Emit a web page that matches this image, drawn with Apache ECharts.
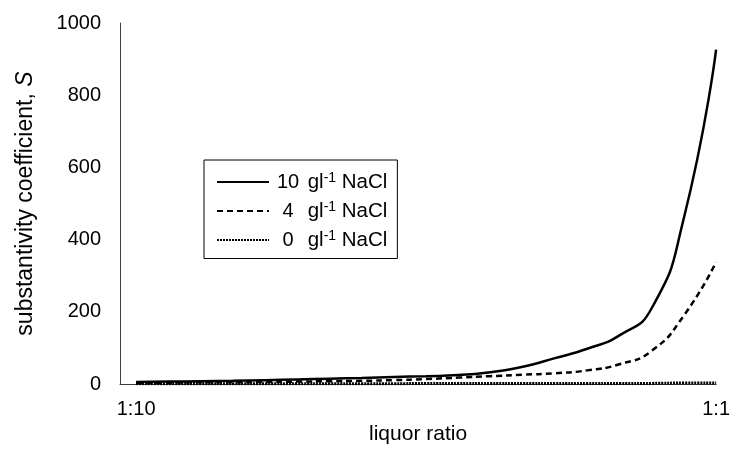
<!DOCTYPE html>
<html>
<head>
<meta charset="utf-8">
<script src="https://cdn.jsdelivr.net/npm/echarts@6/dist/echarts.min.js"></script>
<style>html,body{margin:0;padding:0;background:#fff}#c{width:733px;height:450px}</style>
</head>
<body>
<div id="c"></div>
<script>
var categories = ['1:10','1:9.5','1:9','1:8.5','1:8','1:7.5','1:7','1:6.5','1:6','1:5.5','1:5','1:4.5','1:4','1:3.5','1:3','1:2.5','1:2','1:1.5','1:1'];
var saltLevels = ['10', '4', '0'];
var s10 = [6, 7, 8, 9, 11, 13, 15, 17, 20, 22, 25, 33, 48, 72, 98, 135, 210, 460, 926];
var s4 = [3, 4, 5, 5, 6, 7, 8, 9, 11, 14, 18, 22, 26, 30, 38, 55, 92, 190, 338];
var s0 = [1, 1, 1, 1, 1, 1, 1, 1, 1, 2, 2, 2, 2, 2, 2, 2, 2, 3, 3];
var xTickLabels = [categories[0], categories[categories.length - 1]];
var yTicks = [0, 200, 400, 600, 800, 1000];

function pairs(arr) { return arr.map(function (v, i) { return [i, v]; }); }
var seriesNames = saltLevels.map(function (c) { return c + ' gl-1 NaCl'; });
var FONT = 'Liberation Sans, Arial, sans-serif';

var chart = echarts.init(document.getElementById('c'), null, {renderer: 'canvas'});
chart.setOption({
  animation: false,
  backgroundColor: '#fff',
  grid: {left: 120, top: 23, width: 598, height: 367, containLabel: false},
  legend: {
    show: true,
    orient: 'vertical',
    left: 204, top: 160,
    padding: [11, 10, 8, 12],
    itemGap: 7.5,
    itemWidth: 52, itemHeight: 14,
    borderColor: '#000', borderWidth: 1,
    itemStyle: {opacity: 0},
    data: seriesNames,
    formatter: function (name) {
      var c = saltLevels[seriesNames.indexOf(name)];
      return '{n|' + c + '}{t| gl}{s|-1}{t| NaCl}';
    },
    textStyle: {
      fontFamily: FONT, fontSize: 20, color: '#000',
      rich: {
        n: {fontFamily: FONT, fontSize: 20, color: '#000', width: 28, align: 'right', lineHeight: 22},
        t: {fontFamily: FONT, fontSize: 20.5, color: '#000', lineHeight: 22},
        s: {fontFamily: FONT, fontSize: 14, color: '#000', lineHeight: 13, verticalAlign: 'top'}
      }
    }
  },
  xAxis: {
    type: 'value',
    min: -0.5, max: categories.length - 1,
    name: 'liquor ratio',
    nameLocation: 'middle', nameGap: 37,
    nameTextStyle: {fontFamily: FONT, fontSize: 21, color: '#000'},
    axisLine: {show: true, onZero: false, lineStyle: {color: '#404040', width: 1}},
    axisTick: {show: false},
    splitLine: {show: false},
    axisLabel: {
      fontFamily: FONT, fontSize: 20, color: '#000', margin: 15,
      customValues: [0, categories.length - 1],
      formatter: function (v) { return categories[Math.round(v)]; }
    }
  },
  yAxis: {
    type: 'value', min: 0, max: 1000, interval: 200,
    name: '{a|substantivity coefficient, }{i|S}',
    nameLocation: 'middle', nameGap: 83, nameRotate: 90,
    nameTextStyle: {
      fontFamily: FONT, fontSize: 23, color: '#000',
      rich: {
        a: {fontFamily: FONT, fontSize: 23, color: '#000'},
        i: {fontFamily: FONT, fontSize: 23, color: '#000', fontStyle: 'italic'}
      }
    },
    axisLine: {show: true, onZero: false, lineStyle: {color: '#404040', width: 1}},
    axisTick: {show: false},
    splitLine: {show: false},
    axisLabel: {fontFamily: FONT, fontSize: 20, color: '#000', margin: 19,
      formatter: function (v) { return yTicks.indexOf(v) >= 0 ? String(v) : ''; }}
  },
  series: [
    {name: seriesNames[0], type: 'line', data: pairs(s10), smooth: 0.55, showSymbol: false, symbol: 'none',
      itemStyle: {color: '#000'}, lineStyle: {color: '#000', width: 2.5, type: 'solid'}},
    {name: seriesNames[1], type: 'line', data: pairs(s4), smooth: 0.55, showSymbol: false, symbol: 'none',
      itemStyle: {color: '#000'}, lineStyle: {color: '#000', width: 2.5, type: [6, 4]}},
    {name: seriesNames[2], type: 'line', data: pairs(s0), smooth: 0.55, showSymbol: false, symbol: 'none',
      itemStyle: {color: '#000'}, lineStyle: {color: '#000', width: 3, type: [2, 1]}}
  ]
});
</script>
</body>
</html>
